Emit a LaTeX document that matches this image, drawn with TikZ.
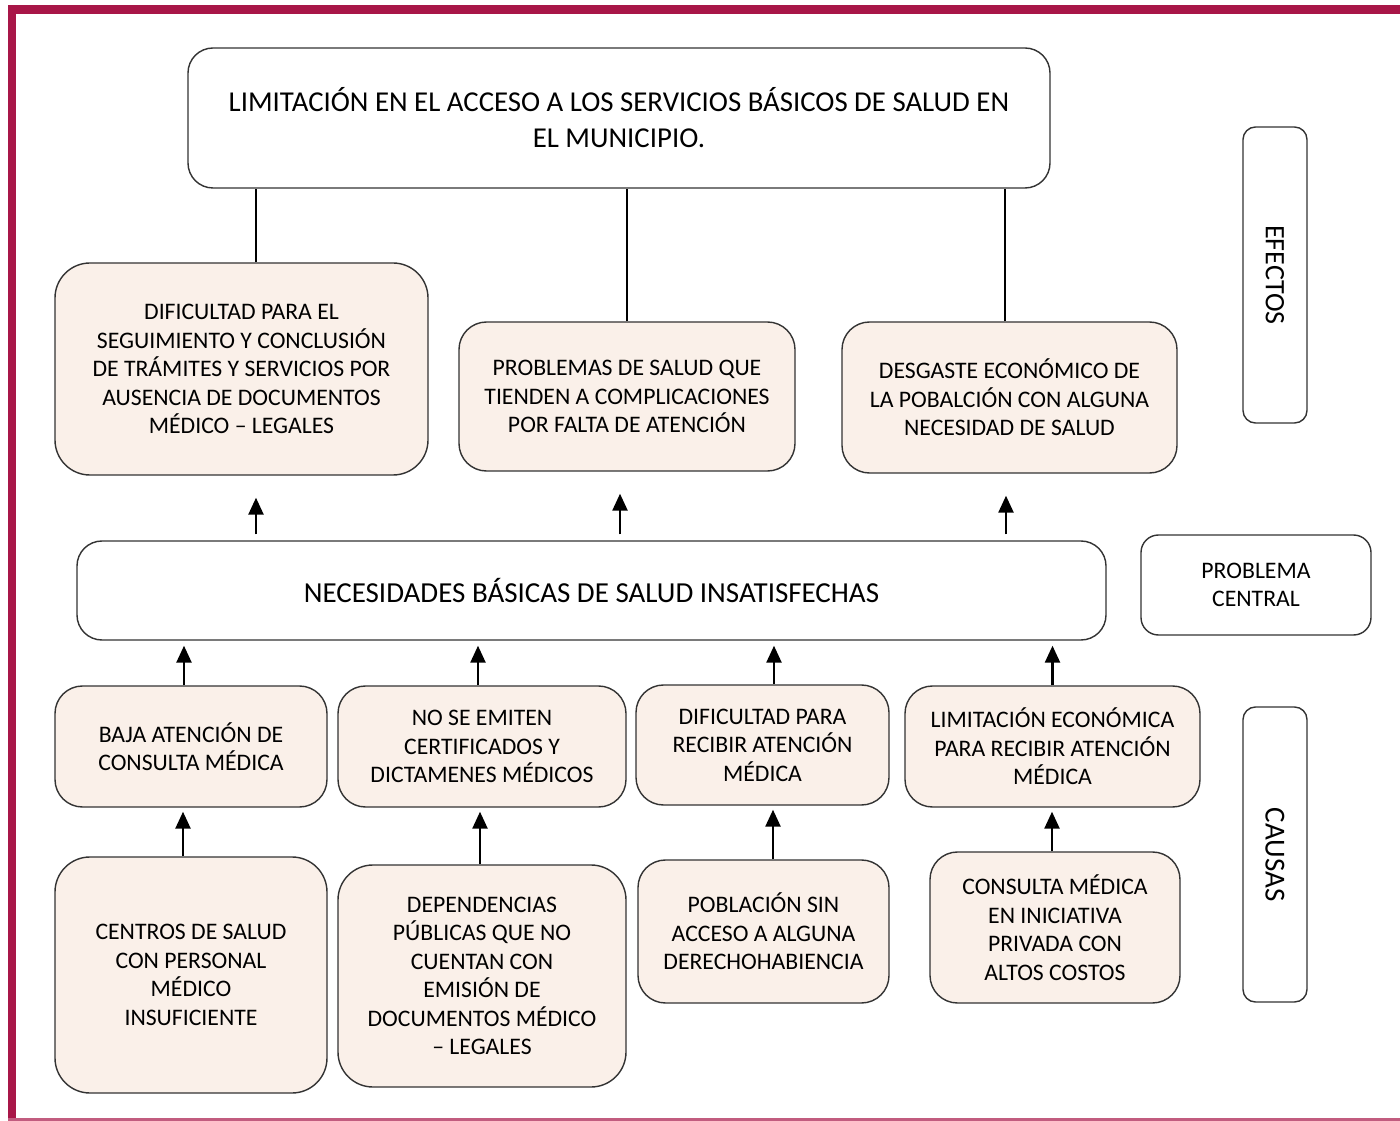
\documentclass[tikz,border=0pt]{standalone}
\usepackage{fontspec}
\setmainfont{Carlito}
\usetikzlibrary{arrows.meta}
\definecolor{frame}{RGB}{168,22,72}
\definecolor{sand}{RGB}{250,240,233}
\begin{document}
\begin{tikzpicture}[
      x=0.02cm, y=-0.02cm,
      every node/.style={align=center, inner sep=0pt},
      wh/.style 2 args={minimum width=#1*0.02cm, minimum height=#2*0.02cm},
      plain/.style={draw=black!80, line width=0.8pt, rounded corners=0.5cm, fill=white,
        font=\fontsize{16.4}{20.5}\selectfont},
      item/.style={draw=black!80, line width=0.8pt, rounded corners=0.55cm, fill=sand,
        font=\fontsize{13.5}{16.2}\selectfont},
      tag/.style={draw=black!80, line width=0.8pt, rounded corners=0.25cm, fill=white,
        font=\fontsize{13.5}{16.2}\selectfont},
      arr/.style={-{Triangle[width=0.3cm,length=0.34cm]}, line width=1.4pt}
    ]
\useasboundingbox (0,0) rectangle (1400,1121);

% Frame
\draw[frame, line width=0.18cm] (12,1121) -- (12,9.5) -- (1400,9.5);
\draw[frame!70, line width=0.06cm] (8,1119) -- (1400,1119);

% Nodes
\node[plain, wh={862}{140}] (top) at (619,118)
  {LIMITACIÓN EN EL ACCESO A LOS SERVICIOS BÁSICOS DE SALUD EN\\EL MUNICIPIO.};
\node[tag, wh={296}{64}, rotate=-90, font=\fontsize{16}{19}\selectfont] (efectos) at (1275,275) {EFECTOS};

\node[item, wh={373}{212}, rounded corners=0.7cm] (e1) at (241.5,369)
  {DIFICULTAD PARA EL\\SEGUIMIENTO Y CONCLUSIÓN\\DE TRÁMITES Y SERVICIOS POR\\AUSENCIA DE DOCUMENTOS\\MÉDICO – LEGALES};
\node[item, wh={336}{149}] (e2) at (627,396.5)
  {PROBLEMAS DE SALUD QUE\\TIENDEN A COMPLICACIONES\\POR FALTA DE ATENCIÓN};
\node[item, wh={335}{151}] (e3) at (1009.5,397.5)
  {DESGASTE ECONÓMICO DE\\LA POBALCIÓN CON ALGUNA\\NECESIDAD DE SALUD};

\node[plain, wh={1029}{99}, font=\fontsize{16.5}{20}\selectfont] (central) at (591.5,590.5)
  {NECESIDADES BÁSICAS DE SALUD INSATISFECHAS};
\node[tag, wh={230}{100}, rounded corners=0.35cm] (problema) at (1256,585) {PROBLEMA\\CENTRAL};

\node[item, wh={272}{121}] (c1) at (191,746.5) {BAJA ATENCIÓN DE\\CONSULTA MÉDICA};
\node[item, wh={288}{121}] (c2) at (482,746.5) {NO SE EMITEN\\CERTIFICADOS Y\\DICTAMENES MÉDICOS};
\node[item, wh={253}{120}] (c3) at (762.5,745) {DIFICULTAD PARA\\RECIBIR ATENCIÓN\\MÉDICA};
\node[item, wh={295}{121}] (c4) at (1052.5,746.5) {LIMITACIÓN ECONÓMICA\\PARA RECIBIR ATENCIÓN\\MÉDICA};
\node[tag, wh={295}{64}, rotate=-90, font=\fontsize{16.5}{19}\selectfont] (causas) at (1275,854.5) {CAUSAS};

\node[item, wh={272}{236}, rounded corners=0.7cm] (r1) at (191,975)
  {CENTROS DE SALUD\\CON PERSONAL\\MÉDICO\\INSUFICIENTE};
\node[item, wh={288}{222}, rounded corners=0.7cm] (r2) at (482,976)
  {DEPENDENCIAS\\PÚBLICAS QUE NO\\CUENTAN CON\\EMISIÓN DE\\DOCUMENTOS MÉDICO\\– LEGALES};
\node[item, wh={251}{143}] (r3) at (763.5,931.5) {POBLACIÓN SIN\\ACCESO A ALGUNA\\DERECHOHABIENCIA};
\node[item, wh={250}{151}] (r4) at (1055,927.5) {CONSULTA MÉDICA\\EN INICIATIVA\\PRIVADA CON\\ALTOS COSTOS};

% Connections
\draw[line width=1.2pt] ([xshift=0.29cm]e1.north) -- ([xshift=0.29cm]e1.north |- top.south);
\draw[line width=1.2pt] (e2.north) -- (e2.north |- top.south);
\draw[line width=1.2pt] ([xshift=-0.09cm]e3.north) -- ([xshift=-0.09cm]e3.north |- top.south);

\draw[arr, shorten <=0.12cm, shorten >=0.44cm] ([xshift=0.29cm]e1.south |- central.north) -- ([xshift=0.29cm]e1.south);
\draw[arr, shorten <=0.12cm, shorten >=0.44cm] ([xshift=-0.14cm]e2.south |- central.north) -- ([xshift=-0.14cm]e2.south);
\draw[arr, shorten <=0.12cm, shorten >=0.44cm] ([xshift=-0.07cm]e3.south |- central.north) -- ([xshift=-0.07cm]e3.south);

\draw[arr, shorten >=0.1cm] ([xshift=-0.14cm]c1.north) -- ([xshift=-0.14cm]c1.north |- central.south);
\draw[arr, shorten >=0.1cm] ([xshift=-0.08cm]c2.north) -- ([xshift=-0.08cm]c2.north |- central.south);
\draw[arr, shorten >=0.1cm] ([xshift=0.23cm]c3.north) -- ([xshift=0.23cm]c3.north |- central.south);
\draw[arr, shorten >=0.1cm] (c4.north) -- (c4.north |- central.south);

\draw[arr, shorten >=0.08cm] ([xshift=-0.16cm]r1.north) -- ([xshift=-0.16cm]r1.north |- c1.south);
\draw[arr, shorten >=0.08cm] ([xshift=-0.04cm]r2.north) -- ([xshift=-0.04cm]r2.north |- c2.south);
\draw[arr, shorten >=0.08cm] ([xshift=0.19cm]r3.north) -- ([xshift=0.19cm]r3.north |- c3.south);
\draw[arr, shorten >=0.08cm] ([xshift=-0.06cm]r4.north) -- ([xshift=-0.06cm]r4.north |- c4.south);

\end{tikzpicture}
\end{document}
